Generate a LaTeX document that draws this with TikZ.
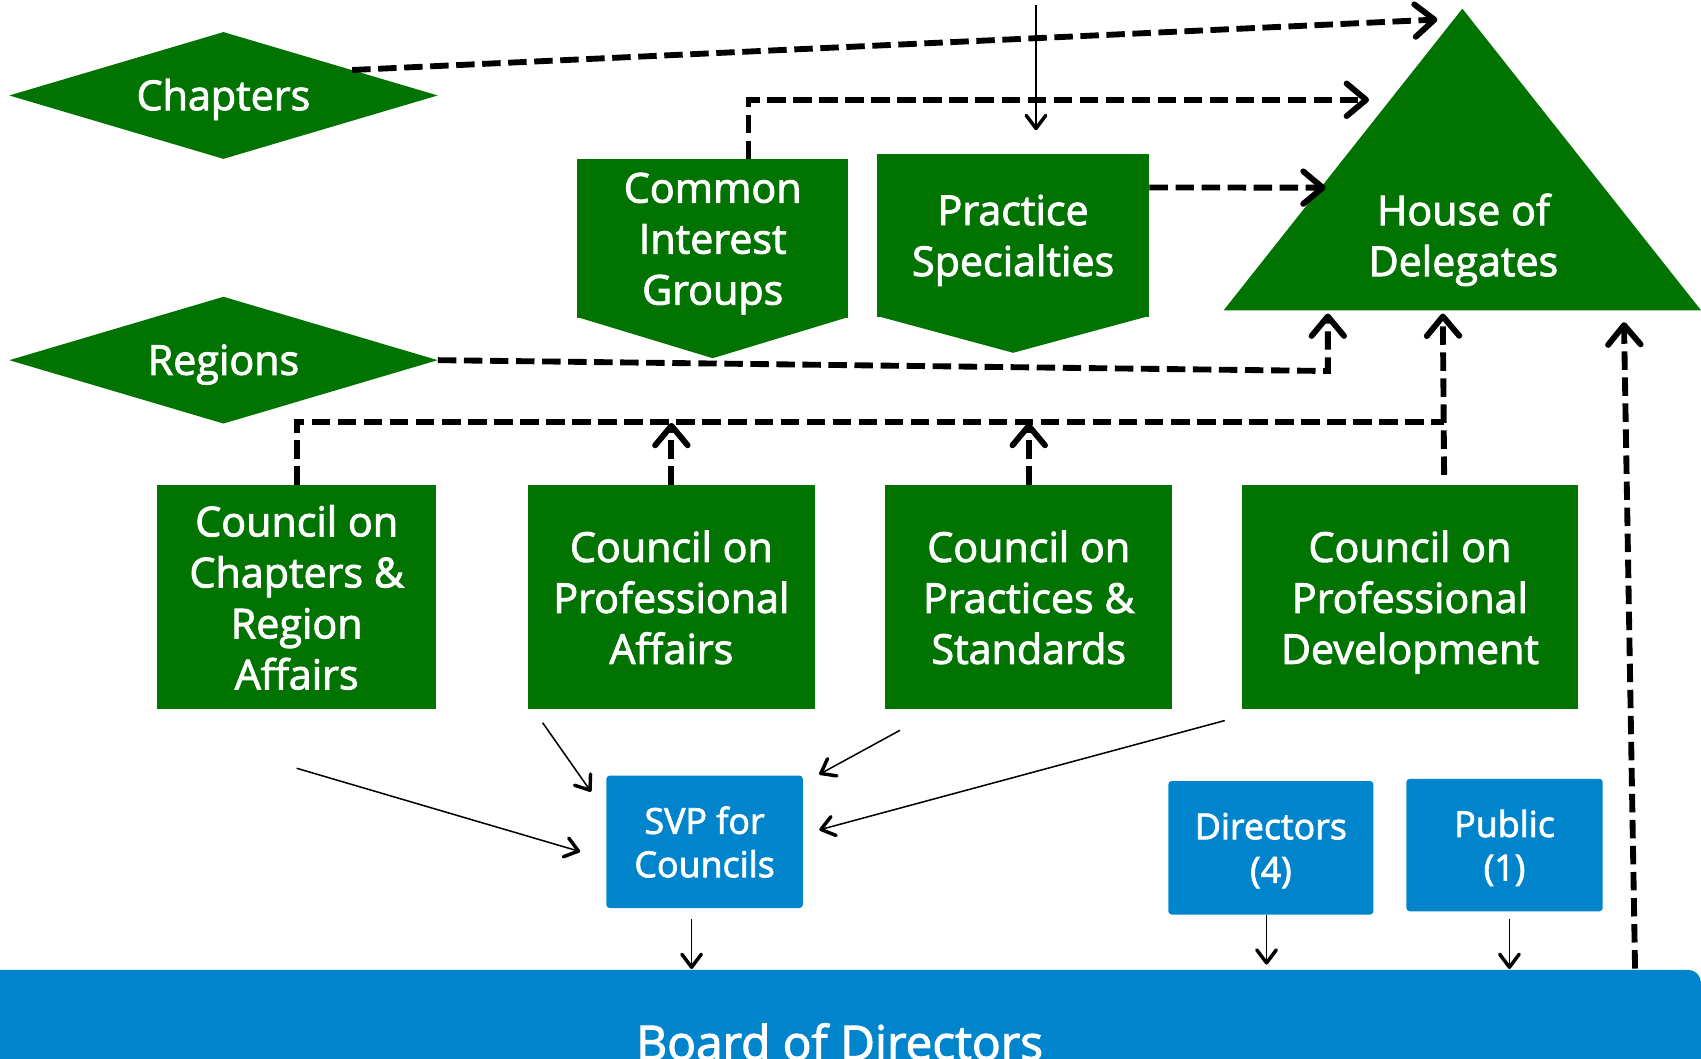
\documentclass[tikz,border=0pt]{standalone}
\usepackage{fontspec}
\setmainfont{Open Sans}[RawFeature={embolden=2.2}]
\usetikzlibrary{calc,positioning,shapes.geometric,arrows.meta}
\definecolor{hodgreen}{RGB}{0,115,0}
\definecolor{bodblue}{RGB}{0,132,204}
\tikzset{
  greenbox/.style={rectangle,fill=hodgreen,text=white,align=center,inner sep=0pt,
    text depth=0pt,execute at begin node={\rule{0pt}{0.76em}},
    font=\fontsize{38}{47}\selectfont},
  diam/.style={diamond,fill=hodgreen,text=white,inner sep=0pt,aspect=3.38,
    minimum width=395pt,minimum height=117pt,text height=27pt,text depth=0pt,
    font=\fontsize{38}{47}\selectfont},
  bluebox/.style={rectangle,rounded corners=3pt,fill=bodblue,text=white,align=center,
    inner sep=0pt,text depth=0pt,execute at begin node={\rule{0pt}{0.76em}},
    font=\fontsize{33}{40}\selectfont},
  dline/.style={line width=5.4pt,dash pattern=on 17pt off 7pt,
    -{Straight Barb[length=18pt,width=30pt,line width=5.4pt,round]}},
  tline/.style={line width=1.4pt,
    -{Straight Barb[length=12pt,width=18pt,line width=3.2pt,round]}},
}
\begin{document}
\begin{tikzpicture}[x=1pt,y=-1pt]
  \useasboundingbox (0,0) rectangle (1568,976);
  \clip (0,0) rectangle (1568,976);
  % top row
  \node[diam] (chapters) at (206,88) {Chapters};
  \node[diam] (regions) at (206,332) {Regions};
  \node[greenbox,minimum width=250pt,minimum height=146pt] (cig) at (657,220)
    {Common\\Interest\\Groups};
  \fill[hodgreen] ($(cig.south west)+(0,-1)$) -- ($(cig.south east)+(0,-1)$)
    -- ($(cig.south)+(0,37)$) -- cycle;
  \node[greenbox,minimum width=251pt,minimum height=150pt,right=26pt of cig,yshift=3pt]
    (practice) {Practice\\Specialties};
  \fill[hodgreen] ($(practice.south west)+(0,-1)$) -- ($(practice.south east)+(0,-1)$)
    -- ($(practice.south)+(0,33)$) -- cycle;
  \coordinate (hod-apex) at (1348,8);
  \coordinate (hod-bl) at (1128,286);
  \coordinate (hod-br) at (1568,286);
  \fill[hodgreen] (hod-apex) -- (hod-bl) -- (hod-br) -- cycle;
  \node[greenbox,fill=none] (hod) at (1349,216.5) {House of\\Delegates};
  % councils
  \node[greenbox,minimum width=257pt,minimum height=207pt] (ccra) at (273.5,550.5)
    {Council on\\Chapters \&\\Region\\Affairs};
  \node[greenbox,minimum width=265pt,minimum height=207pt,right=84pt of ccra] (cpa)
    {Council on\\Professional\\Affairs};
  \node[greenbox,minimum width=265pt,minimum height=207pt,right=64pt of cpa] (cps)
    {Council on\\Practices \&\\Standards};
  \node[greenbox,minimum width=309pt,minimum height=207pt,right=64pt of cps] (cpd)
    {Council on\\Professional\\Development};
  % blue boxes
  \node[bluebox,minimum width=181pt,minimum height=122pt] (svp) at (649.5,776)
    {SVP for\\Councils};
  \node[bluebox,minimum width=189pt,minimum height=123pt] (directors) at (1171.5,781.5)
    {Directors\\(4)};
  \node[bluebox,minimum width=181pt,minimum height=122pt,right=30pt of directors,yshift=2.5pt]
    (public) {Public\\(1)};
  \node[rectangle,rounded corners=12pt,fill=bodblue,text=white,inner sep=0pt,
    minimum width=1588pt,minimum height=133pt,text height=33pt,text depth=0pt,
    font=\fontsize{44}{52}\selectfont] (board) at (774,960.5) {Board of Directors};
  % dashed lines to the house
  \draw[dline] ($(chapters.north)!0.6!(chapters.east)$) -- ($(hod-apex)+(-23,10)$);
  \draw[dline] ($(cig.north)+(33,0)$) |- ($(hod-apex)+(-86,84)$);
  \draw[dline] ($(practice.north east)+(0,31)$) -- ($(hod-bl)+(94,-113)$);
  \draw[dline] (regions.east) -- ($(hod-bl)+(96,56)$) -- ($(hod-bl)+(96,3)$);
  \draw[dline,-] (ccra.north) |- ($(cpd.north)+(31.5,-58)$);
  \draw[dline] (cpa.north) -- ++(0,-57);
  \draw[dline] (cps.north) -- ++(0,-57);
  \draw[dline] ($(cpd.north)+(31.5,-9)$) -- ($(hod-bl)+(202,3)$);
  \draw[dline] ($(board.north east)+(-61,-1)$) -- ($(hod-br)+(-71,11)$);
  % thin arrows
  \coordinate (feed) at (955,5);
  \draw[tline] (feed) -- ++(0,115);
  \draw[tline] ($(ccra.south)+(0,54)$) -- ($(svp.west)+(-24,9)$);
  \draw[tline] ($(cpa.south west)+(14,12)$) -- ($(svp.north west)+(-14,15)$);
  \draw[tline] ($(cps.south west)+(14,19)$) -- ($(svp.north east)+(15,-1)$);
  \draw[tline] ($(cpd.south west)+(-16,10)$) -- ($(svp.east)+(15,-11)$);
  \draw[tline] ($(svp.south)+(-12,10)$) -- ($(svp.south)+(-12,56)$);
  \draw[tline] ($(directors.south)+(-4,0)$) -- ($(directors.south)+(-4,46)$);
  \draw[tline] ($(public.south)+(4.5,7)$) -- ($(public.south)+(4.5,53)$);
\end{tikzpicture}
\end{document}
